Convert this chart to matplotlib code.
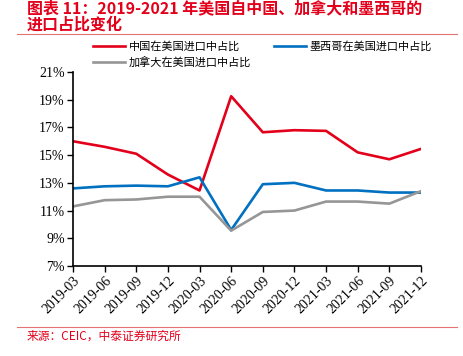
import numpy as np
import matplotlib
matplotlib.use('Agg')
import matplotlib.pyplot as plt
from matplotlib.lines import Line2D

plt.rcParams['font.family'] = ['Liberation Serif', 'Noto Sans CJK SC']

# data
months = ['2019-03', '2019-06', '2019-09', '2019-12', '2020-03', '2020-06',
          '2020-09', '2020-12', '2021-03', '2021-06', '2021-09', '2021-12']
china = [16.0, 15.6, 15.1, 13.6, 12.45, 19.25, 16.65, 16.8, 16.75, 15.2, 14.7, 15.45]
mexico = [12.6, 12.75, 12.8, 12.75, 13.4, 9.6, 12.9, 13.0, 12.45, 12.45, 12.3, 12.3]
canada = [11.3, 11.75, 11.8, 12.0, 12.0, 9.55, 10.9, 11.0, 11.65, 11.65, 11.5, 12.4]
yticks = [7, 9, 11, 13, 15, 17, 19, 21]

RED = '#E3001B'
BLUE = '#0070C0'
GRAY = '#969696'
LINE_RED = '#E57373'
CJK = ['Noto Sans CJK SC', 'DejaVu Sans']
SERIF = ['Liberation Serif', 'DejaVu Serif']

fig = plt.figure(figsize=(4.63, 3.56), dpi=100, facecolor='white')
ax = fig.add_axes([0.1577, 0.2528, 0.7515, 0.545])

x = np.arange(len(months))
l1, = ax.plot(x, china, color=RED, lw=1.9)
l2, = ax.plot(x, mexico, color=BLUE, lw=1.9)
l3, = ax.plot(x, canada, color=GRAY, lw=1.9)

ax.set_xlim(0, len(months) - 1)
ax.set_ylim(7, 21)
ax.set_yticks(yticks)
ax.set_yticklabels(['%d%%' % v for v in yticks], fontsize=10, family=SERIF)
ax.set_xticks(x)
ax.set_xticklabels(months, rotation=45, ha='right', rotation_mode='anchor',
                   fontsize=10, family=SERIF)
for s in ['top', 'right']:
    ax.spines[s].set_visible(False)
for s in ['left', 'bottom']:
    ax.spines[s].set_linewidth(1.2)
ax.tick_params(axis='both', direction='out', length=4, width=1.0, pad=2)

# legend: two columns, filled column-wise -> China, Canada | Mexico
leg = fig.legend([l1, l3, l2],
                 ['中国在美国进口中占比', '加拿大在美国进口中占比', '墨西哥在美国进口中占比'],
                 ncol=2, frameon=False, loc='upper left',
                 bbox_to_anchor=(93 / 463, 1 - 41 / 356), prop={'family': CJK, 'size': 8},
                 handlelength=2.9, columnspacing=2.0, handletextpad=0.35,
                 labelspacing=0.45, borderaxespad=0, borderpad=0)

# title
fig.text(27 / 463, 1 - 8 / 356, '图表 11：2019-2021 年美国自中国、加拿大和墨西哥的', color=RED,
         fontsize=11.5, fontweight='bold', family=CJK, va='center', ha='left')
fig.text(27 / 463, 1 - 25 / 356, '进口占比变化', color=RED, fontsize=11.5, fontweight='bold',
         family=CJK, va='center', ha='left')
fig.add_artist(Line2D([17 / 463, 457 / 463], [1 - 34 / 356, 1 - 34 / 356],
                      color=LINE_RED, lw=0.8))

# source
fig.add_artist(Line2D([17 / 463, 457 / 463], [1 - 327 / 356, 1 - 327 / 356],
                      color=LINE_RED, lw=0.8))
fig.text(27 / 463, 1 - 336 / 356, '来源：CEIC，中泰证券研究所', color=RED,
         fontsize=8.5, family=CJK, va='center', ha='left')

fig.savefig('out.png', dpi=100, facecolor='white')
